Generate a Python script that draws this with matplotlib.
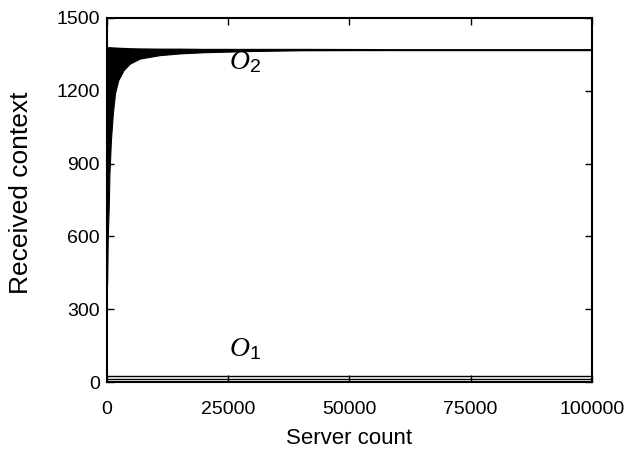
import numpy as np
import matplotlib.pyplot as plt

# received context vs. number of servers
server_count = [0, 150, 350, 500, 800, 1200, 1650, 2300, 3400, 4700,
                6800, 10900, 15000, 20000, 30000, 40000, 60000, 80000, 100000]
o2_low = [400, 600, 719, 860, 995, 1107, 1190, 1243, 1285, 1312,
          1333, 1347, 1354, 1359, 1364, 1367, 1368, 1368, 1368]
o2_high = [1376, 1376, 1376, 1376, 1376, 1375, 1375, 1374, 1373, 1372,
           1371, 1370, 1370, 1369, 1369, 1369, 1368, 1368, 1368]
o1_low = [12] * len(server_count)
o1_high = [25] * len(server_count)

xticks = [0, 25000, 50000, 75000, 100000]
yticks = [0, 300, 600, 900, 1200, 1500]

plt.rcParams['font.family'] = ['Liberation Sans', 'DejaVu Sans']
plt.rcParams['mathtext.fontset'] = 'custom'
plt.rcParams['mathtext.it'] = 'Liberation Serif:italic'
plt.rcParams['mathtext.rm'] = 'Liberation Sans'

fig = plt.figure(figsize=(6.24, 4.5), dpi=100)
ax = fig.add_axes([0.1715, 0.151, 0.777, 0.809])

ax.fill_between(server_count, o2_low, o2_high, color='black', lw=0.8)
ax.plot(server_count, o2_high, color='black', lw=1.4)
ax.plot(server_count, o1_low, color='black', lw=1.0)
ax.plot(server_count, o1_high, color='black', lw=1.0)

ax.text(28400, 1318, r'$O_\mathrm{2}$', fontsize=20, ha='center', va='center')
ax.text(28400, 136, r'$O_\mathrm{1}$', fontsize=20, ha='center', va='center')

ax.set_xlim(0, 100000)
ax.set_ylim(0, 1500)
ax.set_xticks(xticks)
ax.set_yticks(yticks)
ax.tick_params(direction='in', top=True, right=True, length=5, width=1,
               labelsize=14)
ax.tick_params(axis='x', pad=14)
ax.tick_params(axis='y', pad=5)
for s in ax.spines.values():
    s.set_linewidth(1.5)

ax.set_xlabel('Server count', fontsize=16, labelpad=7)
ax.set_ylabel('Received context', fontsize=19)
ax.yaxis.set_label_coords(-0.152, 0.52)

fig.savefig('out.png', dpi=100)
